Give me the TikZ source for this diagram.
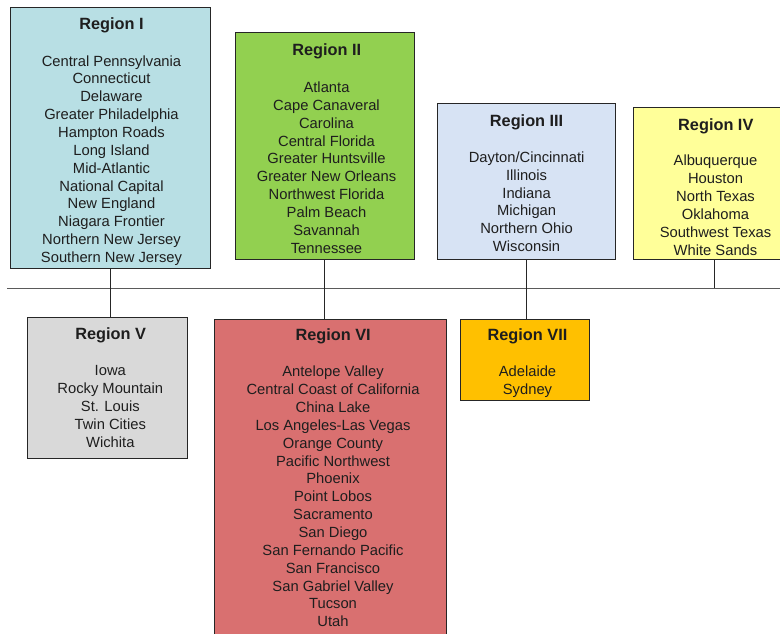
\documentclass[tikz,border=0pt]{standalone}
\usepackage{fontspec}
\setmainfont{Liberation Sans}
\definecolor{cI}{HTML}{B8DFE4}
\definecolor{cII}{HTML}{92D050}
\definecolor{cIII}{HTML}{D7E3F4}
\definecolor{cIV}{HTML}{FFFF99}
\definecolor{cV}{HTML}{D9D9D9}
\definecolor{cVI}{HTML}{D97070}
\definecolor{cVII}{HTML}{FFC000}
\definecolor{txtc}{HTML}{1E1E1E}
\definecolor{edgec}{HTML}{262626}
\definecolor{hlinec}{HTML}{5A5A5A}
\begin{document}
\begin{tikzpicture}[x=1pt,y=-1pt,
  regbox/.style={draw=edgec, line width=1pt, fill=#1, anchor=north west, inner sep=0pt, outer sep=0pt},
  ent/.style={anchor=base, inner sep=0pt, text=txtc, font=\fontsize{14.75}{17.86}\selectfont},
  ttl/.style={anchor=base, inner sep=0pt, text=txtc, font=\fontsize{16.3}{19}\selectfont\bfseries},
  conn/.style={draw=edgec, line width=1pt},
  hline/.style={draw=hlinec, line width=1.5pt}]
\path[use as bounding box] (0,0) rectangle (780,633);
\clip (0,0) rectangle (780,633);
\fill[white] (0,0) rectangle (780,633);

% horizontal bus line
\coordinate (hl-l) at (7,288.3);
\coordinate (hl-r) at (781,288.3);
\draw[hline] (hl-l) -- (hl-r);

% boxes
\node[regbox=cI, minimum width=200pt, minimum height=261pt] (r1) at (10,7.3) {};
\node[regbox=cII, minimum width=179pt, minimum height=226.6pt] (r2) at (235,32.7) {};
\node[regbox=cIII, minimum width=177.7pt, minimum height=156pt] (r3) at (437.3,103.3) {};
\node[regbox=cIV, minimum width=162pt, minimum height=152pt] (r4) at (633.3,107.3) {};
\node[regbox=cV, minimum width=160pt, minimum height=140.6pt] (r5) at (27.7,317.7) {};
\node[regbox=cVI, minimum width=232.7pt, minimum height=340pt] (r6) at (214,319) {};
\node[regbox=cVII, minimum width=129pt, minimum height=81pt] (r7) at (460,319) {};

% connectors
\draw[conn] (r1.south) -- (r1.south |- hl-l);
\draw[conn] (r1.south |- hl-l) -- (r1.south |- r5.north);
\draw[conn] (r2.south) -- (r2.south |- r6.north);
\draw[conn] (r3.south) -- (r3.south |- r7.north);
\draw[conn] (r4.south) -- (r4.south |- hl-l);

% Region I
\node[ttl] (r1h) at (111.5,29.7) {Region I};
\foreach \t [count=\i from 0] in {Central Pennsylvania,Connecticut,Delaware,Greater Philadelphia,Hampton Roads,Long Island,Mid-Atlantic,National Capital,New England,Niagara Frontier,Northern New Jersey,Southern New Jersey}
  \node[ent] (r1-\i) at (111.5,{66+\i*17.86}) {\t};

% Region II
\node[ttl] (r2h) at (326.8,55.7) {Region II};
\foreach \t [count=\i from 0] in {Atlanta,Cape Canaveral,Carolina,Central Florida,Greater Huntsville,Greater New Orleans,Northwest Florida,Palm Beach,Savannah,Tennessee}
  \node[ent] (r2-\i) at (326.5,{92.5+\i*17.86}) {\t};

% Region III
\node[ttl] (r3h) at (526.6,126.2) {Region III};
\foreach \t [count=\i from 0] in {Dayton/Cincinnati,Illinois,Indiana,Michigan,Northern Ohio,Wisconsin}
  \node[ent] (r3-\i) at (526.6,{162.3+\i*17.86}) {\t};

% Region IV
\node[ttl] (r4h) at (715.8,130.2) {Region IV};
\foreach \t [count=\i from 0] in {Albuquerque,Houston,North Texas,Oklahoma,Southwest Texas,White Sands}
  \node[ent] (r4-\i) at (715.5,{165.8+\i*17.86}) {\t};

% Region V
\node[ttl] (r5h) at (110.6,339.5) {Region V};
\foreach \t [count=\i from 0] in {Iowa,Rocky Mountain,St. Louis,Twin Cities,Wichita}
  \node[ent] (r5-\i) at (110.3,{375.8+\i*17.86}) {\t};

% Region VI
\node[ttl] (r6h) at (333.2,340.9) {Region VI};
\foreach \t [count=\i from 0] in {Antelope Valley,Central Coast of California,China Lake,Los Angeles-Las Vegas,Orange County,Pacific Northwest,Phoenix,Point Lobos,Sacramento,San Diego,San Fernando Pacific,San Francisco,San Gabriel Valley,Tucson,Utah}
  \node[ent] (r6-\i) at (333,{376.7+\i*17.86}) {\t};

% Region VII
\node[ttl] (r7h) at (527.5,340.9) {Region VII};
\foreach \t [count=\i from 0] in {Adelaide,Sydney}
  \node[ent] (r7-\i) at (527.5,{376.7+\i*17.86}) {\t};
\end{tikzpicture}
\end{document}
